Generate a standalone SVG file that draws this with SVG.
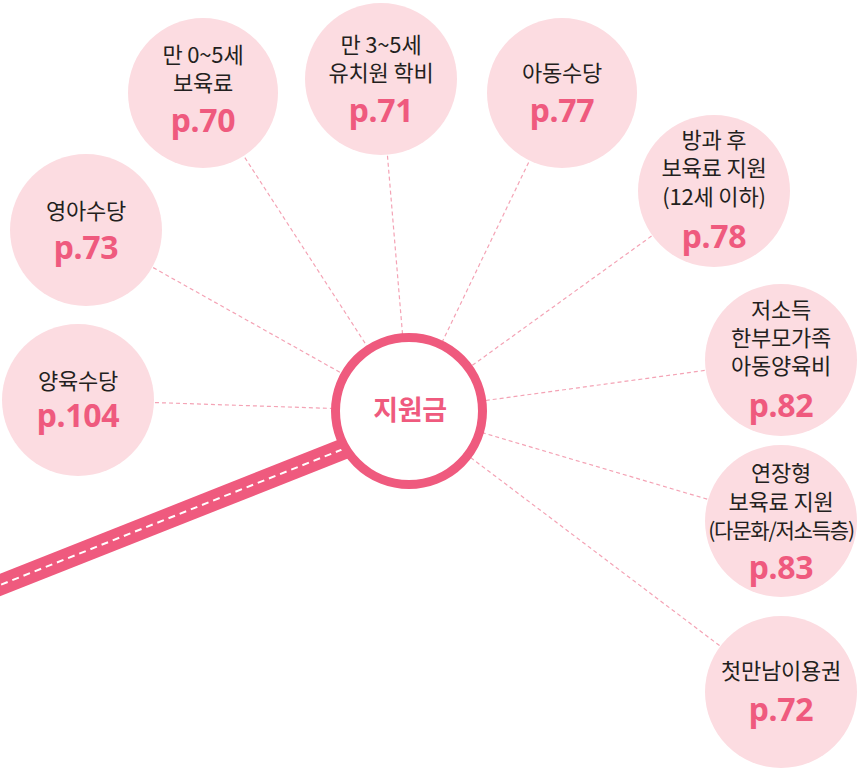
<svg xmlns="http://www.w3.org/2000/svg" width="857" height="771" viewBox="0 0 857 771">
<style>
.bub{fill:#fcdce1}
.lbl{font-family:"Noto Sans CJK KR","Noto Sans",sans-serif;font-size:22px;fill:#231f20;text-anchor:middle;letter-spacing:-0.2px}
.pg{font-family:"Noto Sans","Noto Sans CJK KR",sans-serif;font-size:32px;font-weight:700;fill:#ef5a7e;text-anchor:middle;letter-spacing:-0.3px}
.con{stroke:#f4a3b5;stroke-width:1.2;stroke-dasharray:4 3;fill:none}
</style>
<rect width="857" height="771" fill="#ffffff"/>
<g id="connectors">
<line class="con" x1="203" y1="93" x2="409" y2="411"/>
<line class="con" x1="381" y1="79" x2="409" y2="411"/>
<line class="con" x1="562" y1="93" x2="409" y2="411"/>
<line class="con" x1="714" y1="191" x2="409" y2="411"/>
<line class="con" x1="781" y1="360" x2="409" y2="411"/>
<line class="con" x1="781" y1="521" x2="409" y2="411"/>
<line class="con" x1="781" y1="692" x2="409" y2="411"/>
<line class="con" x1="86" y1="230" x2="409" y2="411"/>
<line class="con" x1="78" y1="400" x2="409" y2="411"/>
<line x1="-10" y1="589" x2="409" y2="423" stroke="#ef5a7e" stroke-width="21"/>
<line x1="-10" y1="589" x2="409" y2="423" stroke="#ffffff" stroke-width="2" stroke-dasharray="7 5"/>
</g>
<g id="center">
<circle cx="409" cy="411" r="73.5" fill="#ffffff" stroke="#ef5a7e" stroke-width="9"/>
<text x="410" y="420" class="pg" style="font-family:'Noto Sans CJK KR',sans-serif;font-size:27px">지원금</text>
</g>
<g id="n70">
<circle class="bub" cx="203" cy="93" r="75"/>
<text class="lbl" x="203" y="63">만 0~5세</text>
<text class="lbl" x="203" y="91">보육료</text>
<text class="pg" x="203" y="132">p.70</text>
</g>
<g id="n71">
<circle class="bub" cx="381" cy="79" r="76"/>
<text class="lbl" x="381" y="53">만 3~5세</text>
<text class="lbl" x="381" y="81">유치원 학비</text>
<text class="pg" x="381" y="122">p.71</text>
</g>
<g id="n77">
<circle class="bub" cx="562" cy="93" r="75"/>
<text class="lbl" x="562" y="81">아동수당</text>
<text class="pg" x="562" y="122">p.77</text>
</g>
<g id="n78">
<circle class="bub" cx="714" cy="191" r="76"/>
<text class="lbl" x="714" y="148">방과 후</text>
<text class="lbl" x="714" y="176">보육료 지원</text>
<text class="lbl" x="714" y="205">(12세 이하)</text>
<text class="pg" x="714" y="248">p.78</text>
</g>
<g id="n82">
<circle class="bub" cx="781" cy="360" r="76"/>
<text class="lbl" x="781" y="318">저소득</text>
<text class="lbl" x="781" y="346">한부모가족</text>
<text class="lbl" x="781" y="374">아동양육비</text>
<text class="pg" x="781" y="417">p.82</text>
</g>
<g id="n83">
<circle class="bub" cx="781" cy="521" r="76"/>
<text class="lbl" x="781" y="481">연장형</text>
<text class="lbl" x="781" y="510">보육료 지원</text>
<text class="lbl" x="781" y="538" style="font-size:21px;letter-spacing:-1.2px">(다문화/저소득층)</text>
<text class="pg" x="781" y="579">p.83</text>
</g>
<g id="n72">
<circle class="bub" cx="781" cy="692" r="76"/>
<text class="lbl" x="781" y="679">첫만남이용권</text>
<text class="pg" x="781" y="721">p.72</text>
</g>
<g id="n73">
<circle class="bub" cx="86" cy="230" r="76"/>
<text class="lbl" x="86" y="219">영아수당</text>
<text class="pg" x="86" y="259">p.73</text>
</g>
<g id="n104">
<circle class="bub" cx="78" cy="400" r="76"/>
<text class="lbl" x="78" y="389">양육수당</text>
<text class="pg" x="78" y="427">p.104</text>
</g>
</svg>
